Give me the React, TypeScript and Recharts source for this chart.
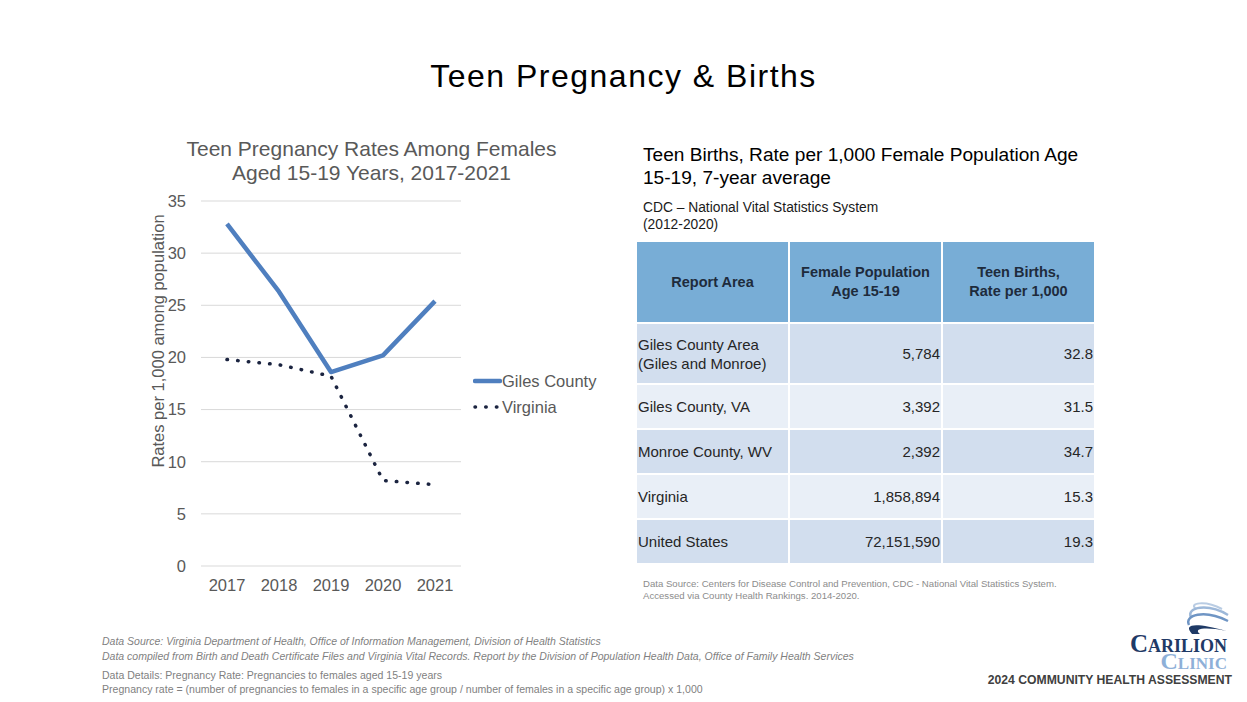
import { CartesianGrid, Legend, Line, LineChart, XAxis, YAxis } from 'recharts';

const years = ['2017', '2018', '2019', '2020', '2021'];
const gilesCounty = [32.8, 26.3, 18.6, 20.2, 25.4];
const virginia = [19.8, 19.3, 18.2, 8.2, 7.8];
const yTicks = [0, 5, 10, 15, 20, 25, 30, 35];

const reportAreas = ['Giles County Area\n(Giles and Monroe)', 'Giles County, VA', 'Monroe County, WV', 'Virginia', 'United States'];
const femalePop = ['5,784', '3,392', '2,392', '1,858,894', '72,151,590'];
const birthRates = ['32.8', '31.5', '34.7', '15.3', '19.3'];
const rowHeights = [59, 43, 43, 43, 43];

const chartData = years.map((year, i) => ({ year, giles: gilesCounty[i], virginia: virginia[i] }));

const FONT = '"Liberation Sans", Arial, sans-serif';
const SERIF = '"Liberation Serif", serif';
const GREY = '#595959';
const GILES_COLOR = '#4F7FBF';
const VA_COLOR = '#1B2440';

const seriesStyle: Record<string, { width: number; dash?: string }> = {
  giles: { width: 4.5 },
  virginia: { width: 3.5, dash: '0.5 10.2' },
};

function LegendBox({ payload }: any) {
  return (
    <div style={{ fontFamily: FONT, fontSize: 16.5, color: GREY }}>
      {(payload || []).map((p: any) => {
        const s = seriesStyle[p.dataKey] || { width: 3 };
        return (
          <div key={p.value} style={{ display: 'flex', alignItems: 'center', height: 26 }}>
            <svg width={29} height={10} style={{ display: 'block' }}>
              <line x1={2} y1={5} x2={27} y2={5} stroke={p.color} strokeWidth={s.width}
                strokeDasharray={s.dash} strokeLinecap="round" />
            </svg>
            <span>{p.value}</span>
          </div>
        );
      })}
    </div>
  );
}

function YLabel() {
  return (
    <text x={18} y={211} transform="rotate(-90 18 211)" textAnchor="middle" dominantBaseline="central"
      fill={GREY} fontSize={16.5} fontFamily={FONT}>
      Rates per 1,000 among population
    </text>
  );
}

function Logo() {
  return (
    <div style={{ position: 'absolute', left: 960, top: 598, width: 272, height: 95 }}>
      <svg width={272} height={36} style={{ position: 'absolute', left: 0, top: 3 }}>
        <path d="M262 8 C245 -1 228 2 236 8" stroke="#B9CCE3" strokeWidth={2} fill="none" />
        <path d="M268 14 C248 2 226 6 231 16" stroke="#9DB8D9" strokeWidth={2.5} fill="none" />
        <path d="M268 20 C244 8 224 14 229 24" stroke="#6F95C4" strokeWidth={2.5} fill="none" />
        <path d="M266 30 C238 22 222 22 232 33 L240 33 C232 27 248 26 266 30 Z" fill="#1F3A66" />
      </svg>
      <div style={{ position: 'absolute', right: 5, top: 36.5, fontFamily: SERIF, fontWeight: 'bold',
        fontVariant: 'small-caps', fontSize: 24, lineHeight: '17px', textAlign: 'right' }}>
        <span style={{ color: '#1F3A66', fontSize: 25 }}>Carilion</span><br />
        <span style={{ color: '#8EB0D8' }}>Clinic</span>
      </div>
      <div style={{ position: 'absolute', right: 0, top: 75.5, fontFamily: FONT, fontWeight: 'bold',
        fontSize: 12.2, color: '#404040', whiteSpace: 'nowrap', lineHeight: '12px' }}>
        2024 COMMUNITY HEALTH ASSESSMENT
      </div>
    </div>
  );
}

export default function App() {
  const cellBase = { fontFamily: FONT, fontSize: 15, color: '#262626', padding: '0 1px', lineHeight: '19px' };
  return (
    <div style={{ position: 'absolute', left: 0, top: 0, width: 1247, height: 702, background: '#fff',
      fontFamily: FONT, overflow: 'hidden' }}>
      <div style={{ position: 'absolute', left: 0, width: 1247, top: 58, textAlign: 'center',
        fontFamily: FONT, fontSize: 32, letterSpacing: 1.5, color: '#000', lineHeight: '36px' }}>
        Teen Pregnancy &amp; Births
      </div>

      {/* left chart */}
      <div style={{ position: 'absolute', left: 120, top: 137, width: 503, textAlign: 'center',
        fontSize: 21, color: GREY, lineHeight: '24px' }}>
        Teen Pregnancy Rates Among Females<br />Aged 15-19 Years, 2017-2021
      </div>
      <div style={{ position: 'absolute', left: 140, top: 130 }}>
        <LineChart width={480} height={470} data={chartData} margin={{ top: 71, right: 159, bottom: 4, left: 0 }}>
          <CartesianGrid vertical={false} stroke="#d9d9d9" />
          <XAxis dataKey="year" height={30} padding={{ left: 26, right: 26 }} axisLine={false} tickLine={false}
            tickSize={0} tickMargin={13} tick={{ fontSize: 16.5, fill: GREY, fontFamily: FONT }} interval={0} />
          <YAxis width={61} domain={[0, 35]} ticks={yTicks} axisLine={false} tickLine={false} tickSize={0}
            tickMargin={15} tick={{ fontSize: 16.5, fill: GREY, fontFamily: FONT }} label={<YLabel />} />
          <Legend layout="horizontal" verticalAlign="middle" align="center" content={<LegendBox />}
            wrapperStyle={{ left: 333, top: 238, width: 140 }} />
          <Line dataKey="giles" name="Giles County" stroke={GILES_COLOR} strokeWidth={seriesStyle.giles.width}
            dot={false} isAnimationActive={false} strokeLinejoin="round" />
          <Line dataKey="virginia" name="Virginia" stroke={VA_COLOR} strokeWidth={seriesStyle.virginia.width}
            strokeDasharray={seriesStyle.virginia.dash} strokeLinecap="round" dot={false} isAnimationActive={false} />
        </LineChart>
      </div>

      {/* right table */}
      <div style={{ position: 'absolute', left: 643, top: 143, fontSize: 19.1, color: '#000', lineHeight: '23px',
        whiteSpace: 'nowrap' }}>
        Teen Births, Rate per 1,000 Female Population Age<br />15-19, 7-year average
      </div>
      <div style={{ position: 'absolute', left: 643, top: 199, fontSize: 13.8, color: '#1a1a1a', lineHeight: '17px',
        whiteSpace: 'nowrap' }}>
        CDC – National Vital Statistics System<br />(2012-2020)
      </div>
      <table style={{ position: 'absolute', left: 635, top: 240, borderCollapse: 'separate', borderSpacing: 2 }}>
        <thead>
          <tr style={{ height: 80 }}>
            {['Report Area', 'Female Population\nAge 15-19', 'Teen Births,\nRate per 1,000'].map((h) => (
              <th key={h} style={{ ...cellBase, width: 149, background: '#78ADD6', fontWeight: 'bold', fontSize: 14.5,
                textAlign: 'center', whiteSpace: 'pre-line', color: '#1E2B3C' }}>{h}</th>
            ))}
          </tr>
        </thead>
        <tbody>
          {reportAreas.map((area, i) => {
            const bg = i % 2 === 0 ? '#D2DEEE' : '#E9EFF7';
            return (
              <tr key={area} style={{ height: rowHeights[i] }}>
                <td style={{ ...cellBase, background: bg, whiteSpace: 'pre-line' }}>{area}</td>
                <td style={{ ...cellBase, background: bg, textAlign: 'right' }}>{femalePop[i]}</td>
                <td style={{ ...cellBase, background: bg, textAlign: 'right' }}>{birthRates[i]}</td>
              </tr>
            );
          })}
        </tbody>
      </table>
      <div style={{ position: 'absolute', left: 643, top: 578, fontSize: 9.6, color: '#8c8c8c', lineHeight: '12px',
        whiteSpace: 'nowrap' }}>
        Data Source: Centers for Disease Control and Prevention, CDC - National Vital Statistics System.<br />
        Accessed via County Health Rankings. 2014-2020.
      </div>

      {/* footer */}
      <div style={{ position: 'absolute', left: 102, top: 634, fontSize: 10.5, color: '#7f7f7f', lineHeight: '15px',
        fontStyle: 'italic', whiteSpace: 'nowrap' }}>
        Data Source: Virginia Department of Health, Office of Information Management, Division of Health Statistics<br />
        Data compiled from Birth and Death Certificate Files and Virginia Vital Records. Report by the Division of Population Health Data, Office of Family Health Services
      </div>
      <div style={{ position: 'absolute', left: 102, top: 668, fontSize: 10.55, color: '#7f7f7f', lineHeight: '14px',
        whiteSpace: 'nowrap' }}>
        Data Details: Pregnancy Rate: Pregnancies to females aged 15-19 years<br />
        Pregnancy rate = (number of pregnancies to females in a specific age group / number of females in a specific age group) x 1,000
      </div>

      <Logo />
    </div>
  );
}
